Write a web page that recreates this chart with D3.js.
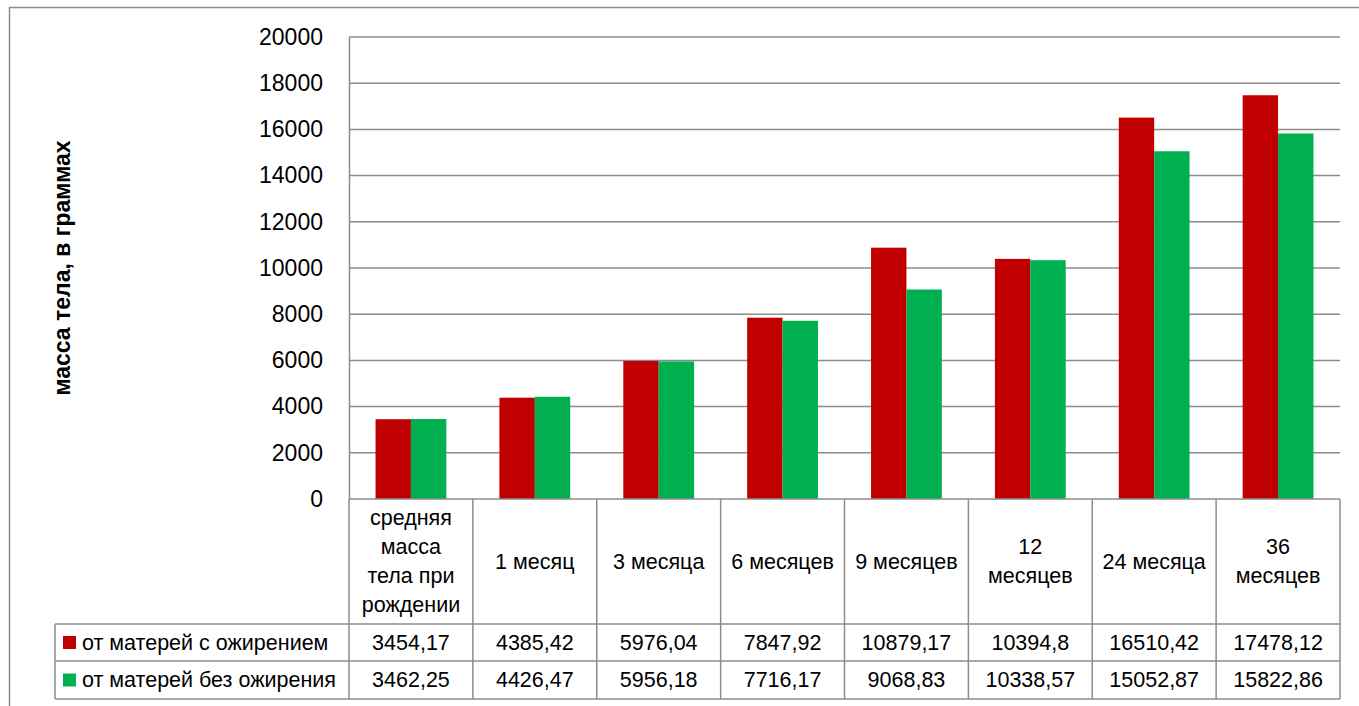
<!DOCTYPE html>
<html><head><meta charset="utf-8">
<script src="https://cdn.jsdelivr.net/npm/d3@7"></script>
<style>
html,body{margin:0;padding:0;background:#fff;overflow:hidden}
svg{display:block}
text{font-family:"Liberation Sans",Arial,sans-serif;fill:#000}
</style></head>
<body>
<svg id="chart" width="1359" height="706"></svg>
<script>
const categories = [
  "средняя\nмасса\nтела при\nрождении",
  "1 месяц",
  "3 месяца",
  "6 месяцев",
  "9 месяцев",
  "12\nмесяцев",
  "24 месяца",
  "36\nмесяцев"
];
const seriesNames = ["от матерей с ожирением", "от матерей без ожирения"];
const seriesObese = [3454.17, 4385.42, 5976.04, 7847.92, 10879.17, 10394.8, 16510.42, 17478.12];
const seriesNonObese = [3462.25, 4426.47, 5956.18, 7716.17, 9068.83, 10338.57, 15052.87, 15822.86];
const yTicks = [0, 2000, 4000, 6000, 8000, 10000, 12000, 14000, 16000, 18000, 20000];
const yTitle = "масса тела, в граммах";
const colors = ["#C00000", "#00B050"];

const series = [seriesObese, seriesNonObese];
const svg = d3.select("#chart");
const gridColor = "#8c8c8c";
const tableFont = 21.5;

const L = 349, R = 1340, T = 37, B = 499;
const headerBottom = 624, row1Bottom = 661, row2Bottom = 699, legendLeft = 55;

// outer border
svg.append("rect").attr("x", 9.5).attr("y", 7.5).attr("width", 1400).attr("height", 800)
  .attr("fill", "none").attr("stroke", gridColor).attr("stroke-width", 1.5);

const x = d3.scaleBand().domain(d3.range(categories.length)).range([L, R]).padding(0);
const xs = d3.scaleBand().domain(d3.range(series.length)).range([0, x.bandwidth()]).paddingInner(0).paddingOuter(0.75);
const y = d3.scaleLinear().domain([0, 20000]).range([B, T]);

// gridlines
svg.append("g").selectAll("line").data(yTicks.filter(d => d > 0)).join("line")
  .attr("x1", L).attr("x2", R).attr("y1", d => y(d)).attr("y2", d => y(d))
  .attr("stroke", gridColor).attr("stroke-width", 1.5);

// y axis
const yAxis = d3.axisLeft(y).tickValues(yTicks).tickSize(0).tickPadding(26).tickFormat(d3.format("d"));
const ga = svg.append("g").attr("transform", `translate(${L},0)`).call(yAxis);
ga.select(".domain").attr("stroke", gridColor).attr("stroke-width", 1.5);
ga.selectAll("text").attr("font-size", 23).attr("font-family", "Liberation Sans, Arial, sans-serif").attr("fill", "#000");

// bars
series.forEach((vals, si) => {
  svg.append("g").selectAll("rect").data(vals).join("rect")
    .attr("x", (d, i) => x(i) + xs(si))
    .attr("width", xs.bandwidth())
    .attr("y", d => y(d))
    .attr("height", d => y(0) - y(d))
    .attr("fill", colors[si]);
});

// y title
svg.append("text").attr("transform", `translate(62,${(T + B) / 2}) rotate(-90)`)
  .attr("text-anchor", "middle").attr("dominant-baseline", "central")
  .attr("font-size", 23).attr("font-weight", "bold").text(yTitle);

// table
const tg = svg.append("g").attr("stroke", gridColor).attr("stroke-width", 1.5);
tg.append("line").attr("x1", L).attr("x2", R).attr("y1", B).attr("y2", B);
[headerBottom, row1Bottom, row2Bottom].forEach(yy =>
  tg.append("line").attr("x1", legendLeft).attr("x2", R).attr("y1", yy).attr("y2", yy));
d3.range(categories.length + 1).forEach(i => {
  const xx = i < categories.length ? x(i) : R;
  tg.append("line").attr("x1", xx).attr("x2", xx).attr("y1", B).attr("y2", row2Bottom);
});
tg.append("line").attr("x1", legendLeft).attr("x2", legendLeft).attr("y1", headerBottom).attr("y2", row2Bottom);

// header labels
const lineH = 29;
const headerMid = (B + headerBottom) / 2;
categories.forEach((c, i) => {
  const lines = c.split("\n");
  const t = svg.append("text").attr("text-anchor", "middle").attr("font-size", tableFont);
  lines.forEach((ln, j) => {
    t.append("tspan").attr("x", x(i) + x.bandwidth() / 2)
      .attr("y", headerMid + (j - (lines.length - 1) / 2) * lineH)
      .attr("dominant-baseline", "central").text(ln);
  });
});

// rows
const fmt = v => String(v).replace(".", ",");
const rowMids = [(headerBottom + row1Bottom) / 2, (row1Bottom + row2Bottom) / 2];
series.forEach((vals, si) => {
  const ym = rowMids[si];
  svg.append("rect").attr("x", 63).attr("y", ym - 6.5).attr("width", 13).attr("height", 13).attr("fill", colors[si]);
  svg.append("text").attr("x", 82).attr("y", ym).attr("dominant-baseline", "central")
    .attr("font-size", tableFont).text(seriesNames[si]);
  svg.append("g").selectAll("text").data(vals).join("text")
    .attr("x", (d, i) => x(i) + x.bandwidth() / 2).attr("y", ym)
    .attr("text-anchor", "middle").attr("dominant-baseline", "central")
    .attr("font-size", tableFont).text(d => fmt(d));
});
</script>
</body></html>
